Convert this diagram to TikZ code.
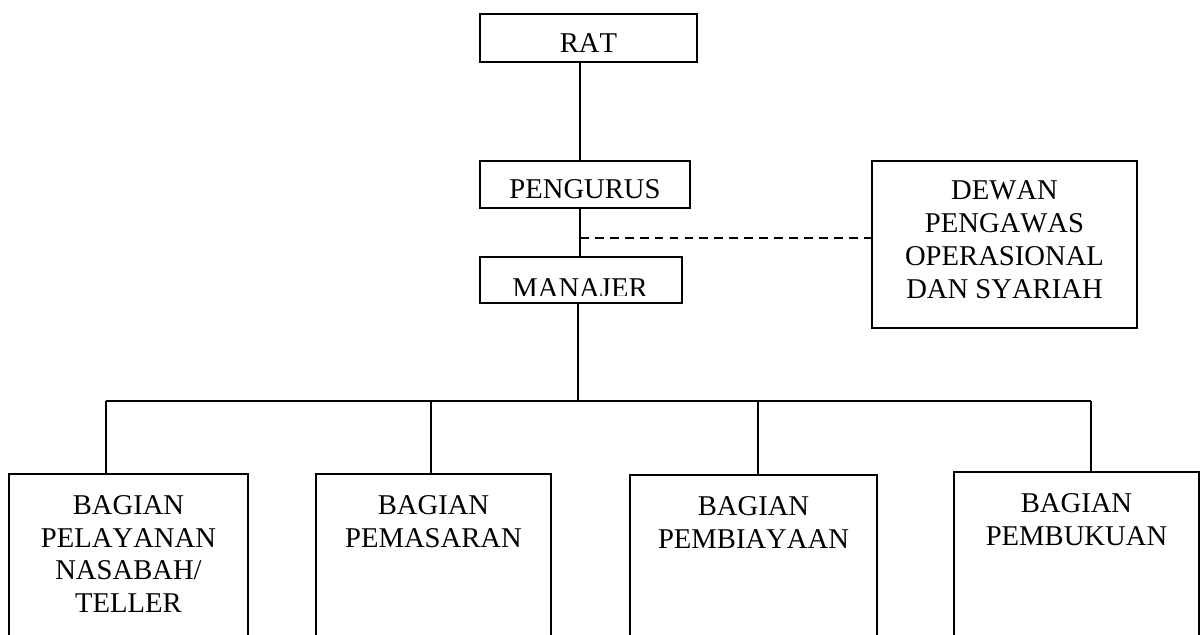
\documentclass[tikz,border=0pt]{standalone}
\usepackage{fontspec}
\setmainfont[Kerning=Off]{Liberation Serif}
\usetikzlibrary{positioning}

\newcommand{\orgfont}{\fontsize{16.3}{18.7}\selectfont}

\begin{document}
\begin{tikzpicture}[x=0.02cm, y=-0.02cm,
    box/.style={draw=borderColour, line width=1pt, inner sep=0pt, font=\orgfont, align=center},
    role/.style={box, text height=16.4pt, text depth=0pt},
    unit/.style={box, anchor=north, minimum height=5cm},
    unitlabel/.style={anchor=north, font=\orgfont, align=center, inner sep=12.5pt},
    link/.style={draw=borderColour, line width=1pt},
    dashlink/.style={link, dash pattern=on 5pt off 3.5pt}]

    \definecolor{borderColour}{HTML}{000000}

    % Page frame
    \useasboundingbox (0,0) rectangle (1200,635);
    \clip (0,0) rectangle (1200,635);

    % Draw top boxes
    \node[role, minimum width=4.34cm, minimum height=0.96cm] (rat) at (588.5,38) {RAT};
    \node[role, minimum width=4.2cm, minimum height=0.94cm] (pengurus) at (585,184.5) {PENGURUS};
    \node[box, minimum width=4.04cm, minimum height=0.92cm] (manajer) at (581,280) {};
    \begin{scope}
        \clip (480,250) rectangle (682,295.5);
        \node[anchor=base, font=\orgfont] (manajerText) at (580,297) {MANAJER};
    \end{scope}
    \node[box, minimum width=4.04cm, minimum height=0.92cm] at (manajer) {};

    \node[box, minimum width=5.3cm, minimum height=3.34cm,
        label={[font=\orgfont, align=center, yshift=2.8pt]center:DEWAN\\PENGAWAS\\OPERASIONAL\\DAN SYARIAH}] (dewan) at (1004.5,244.5) {};

    % Draw bottom boxes
    \node[unit, minimum width=4.78cm, label={[unitlabel]north:BAGIAN\\PELAYANAN\\NASABAH/\\TELLER}] (pelayanan) at (128.5,473) {};
    \node[unit, minimum width=4.7cm, label={[unitlabel]north:BAGIAN\\PEMASARAN}] (pemasaran) at (433.5,473) {};
    \node[unit, minimum width=4.94cm, label={[unitlabel]north:BAGIAN\\PEMBIAYAAN}] (pembiayaan) at (753.5,474) {};
    \node[unit, minimum width=4.9cm, label={[unitlabel]north:BAGIAN\\PEMBUKUAN}] (pembukuan) at (1076.5,471) {};

    % Connect the chain
    \coordinate (tap) at (580,238);
    \coordinate (bus) at (578,401);
    \draw[link] (tap |- rat.south) -- (tap |- pengurus.north);
    \draw[link] (tap |- pengurus.south) -- (tap |- manajer.north);
    \draw[dashlink] (tap) -- (tap -| dewan.west);
    \draw[link] (bus |- manajer.south) -- (bus);

    % Draw the bus and the drops
    \draw[link] (106,401) -- (1091,401);
    \foreach \x/\unitname in {106/pelayanan, 431/pemasaran, 758/pembiayaan, 1091/pembukuan}
        \draw[link] (\x,401) -- (\x,401 |- \unitname.north);

\end{tikzpicture}
\end{document}
